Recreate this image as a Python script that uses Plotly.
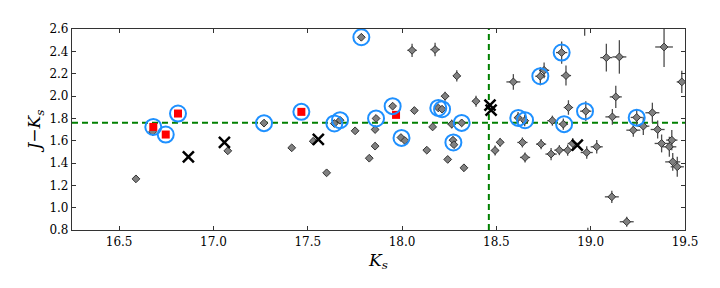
import plotly.graph_objects as go

# ---------------- data ----------------
# gray diamonds with error bars: Ks, J-Ks, err_Ks, err_JKs
gray_x = [16.589, 16.678, 17.076, 17.268, 17.415, 17.529, 17.600, 17.641, 17.671, 17.751,
          17.862, 17.857, 17.857, 17.826, 17.784, 17.950, 17.994, 18.015, 18.065, 18.053,
          18.175, 18.131, 18.162, 18.192, 18.212, 18.228, 18.242, 18.263, 18.270, 18.275,
          18.316, 18.328, 18.290, 18.392, 18.493, 18.520,
          18.590, 18.733, 18.753, 18.869, 18.846, 19.083, 19.152, 19.389, 19.483, 19.133,
          18.615, 18.650, 18.797, 18.855, 18.882, 18.974, 19.115, 19.244, 19.327, 19.226,
          19.279, 19.355, 19.376, 19.430, 19.417, 19.435, 19.459, 18.638, 18.652, 18.737,
          18.790, 18.834, 18.878, 18.905, 18.979, 19.032, 19.112, 19.191, 18.968, 18.985]
gray_y = [1.258, 1.680, 1.509, 1.757, 1.536, 1.595, 1.312, 1.754, 1.783, 1.688,
          1.799, 1.700, 1.551, 1.443, 2.526, 1.909, 1.628, 1.601, 1.870, 2.409,
          2.416, 1.515, 1.723, 1.893, 1.882, 1.998, 1.432, 1.748, 1.604, 1.564,
          1.759, 1.357, 2.180, 1.953, 1.512, 1.585,
          2.126, 2.177, 2.230, 2.183, 2.389, 2.344, 2.350, 2.439, 2.126, 1.992,
          1.806, 1.779, 1.779, 1.748, 1.897, 1.864, 1.813, 1.808, 1.850, 1.694,
          1.730, 1.700, 1.575, 1.605, 1.545, 1.410, 1.366, 1.584, 1.450, 1.569,
          1.480, 1.515, 1.515, 1.575, 1.494, 1.545, 1.097, 0.874, 2.680, 0.700]
gray_xerr = [0.004, 0.004, 0.004, 0.004, 0.004, 0.004, 0.004, 0.005, 0.005, 0.005,
             0.006, 0.006, 0.006, 0.006, 0.010, 0.008, 0.008, 0.008, 0.015, 0.025,
             0.025, 0.012, 0.012, 0.012, 0.012, 0.020, 0.012, 0.020, 0.014, 0.014,
             0.015, 0.015, 0.020, 0.020, 0.020, 0.020,
             0.037, 0.027, 0.027, 0.027, 0.030, 0.032, 0.037, 0.047, 0.027, 0.032,
             0.020, 0.020, 0.027, 0.025, 0.025, 0.030, 0.037, 0.032, 0.037, 0.037,
             0.032, 0.037, 0.037, 0.030, 0.037, 0.040, 0.035, 0.027, 0.027, 0.027,
             0.030, 0.027, 0.027, 0.027, 0.032, 0.032, 0.037, 0.037, 0.020, 0.020]
gray_yerr = [0.008, 0.008, 0.008, 0.008, 0.008, 0.008, 0.008, 0.010, 0.010, 0.010,
             0.012, 0.012, 0.012, 0.012, 0.025, 0.015, 0.015, 0.015, 0.030, 0.060,
             0.060, 0.020, 0.025, 0.025, 0.025, 0.040, 0.025, 0.040, 0.030, 0.030,
             0.030, 0.030, 0.050, 0.050, 0.045, 0.040,
             0.070, 0.080, 0.070, 0.090, 0.100, 0.125, 0.150, 0.180, 0.100, 0.100,
             0.050, 0.050, 0.045, 0.050, 0.065, 0.090, 0.070, 0.070, 0.090, 0.060,
             0.080, 0.080, 0.080, 0.090, 0.090, 0.080, 0.090, 0.045, 0.045, 0.045,
             0.055, 0.045, 0.050, 0.050, 0.055, 0.060, 0.055, 0.045, 0.140, 0.120]

# blue open circles (highlighted sources)
circ_x = [16.681, 16.747, 16.812, 17.268, 17.466, 17.641, 17.671, 17.784, 17.862, 17.950,
          17.997, 18.192, 18.212, 18.272, 18.316, 18.616, 18.652, 18.733, 18.846, 18.859,
          18.970, 19.244]
circ_y = [1.723, 1.655, 1.843, 1.757, 1.858, 1.754, 1.783, 2.526, 1.799, 1.909,
          1.625, 1.893, 1.882, 1.584, 1.759, 1.804, 1.783, 2.177, 2.389, 1.748,
          1.864, 1.806]

# red squares
red_x = [16.681, 16.747, 16.812, 17.466, 17.968]
red_y = [1.723, 1.655, 1.843, 1.858, 1.831]

# black crosses
cross_x = [16.867, 17.058, 17.556, 18.466, 18.472, 18.929]
cross_y = [1.455, 1.584, 1.611, 1.918, 1.873, 1.560]

# reference lines
HLINE_Y = 1.76
VLINE_X = 18.46

X_RANGE = [16.25, 19.5]
Y_RANGE = [0.8, 2.6]
x_ticks = [16.5, 17.0, 17.5, 18.0, 18.5, 19.0, 19.5]
y_ticks = [0.8, 1.0, 1.2, 1.4, 1.6, 1.8, 2.0, 2.2, 2.4, 2.6]

# ---------------- figure ----------------
fig = go.Figure()

green = "#008000"
fig.add_trace(go.Scatter(x=X_RANGE, y=[HLINE_Y, HLINE_Y], mode="lines",
                         line=dict(color=green, width=2, dash="6px,4px"),
                         hoverinfo="skip", showlegend=False))
fig.add_trace(go.Scatter(x=[VLINE_X, VLINE_X], y=Y_RANGE, mode="lines",
                         line=dict(color=green, width=2, dash="6px,4px"),
                         hoverinfo="skip", showlegend=False))

fig.add_trace(go.Scatter(
    x=gray_x, y=gray_y, mode="markers",
    marker=dict(symbol="diamond", size=6, color="#808080",
                line=dict(color="#333333", width=1)),
    error_x=dict(type="data", array=gray_xerr, color="#4d4d4d", thickness=1.3, width=0),
    error_y=dict(type="data", array=gray_yerr, color="#4d4d4d", thickness=1.3, width=0),
    showlegend=False))

fig.add_trace(go.Scatter(
    x=red_x, y=red_y, mode="markers",
    marker=dict(symbol="square", size=8, color="#ff0000", line=dict(width=0)),
    showlegend=False))

fig.add_trace(go.Scatter(
    x=circ_x, y=circ_y, mode="markers",
    marker=dict(symbol="circle-open", size=16, color="#1e90ff",
                line=dict(color="#1e90ff", width=2)),
    showlegend=False))

fig.add_trace(go.Scatter(
    x=cross_x, y=cross_y, mode="markers",
    marker=dict(symbol="x-thin-open", size=11, color="black",
                line=dict(color="black", width=2.5)),
    showlegend=False))

axis_font = dict(family="DejaVu Serif", size=12, color="black")
title_font = dict(family="DejaVu Serif", size=17, color="black")

fig.update_xaxes(range=X_RANGE, tickvals=x_ticks, ticktext=[f"{v:.1f}" for v in x_ticks],
                 ticks="inside", ticklen=4, tickcolor="#333", showgrid=False, zeroline=False,
                 showline=True, linecolor="#333", linewidth=1.2, mirror="ticks",
                 tickfont=axis_font, automargin=False,
                 title=dict(text="<i>K</i><sub><i>s</i></sub>", font=title_font, standoff=6))
fig.update_yaxes(range=Y_RANGE, tickvals=y_ticks, ticktext=[f"{v:.1f}" for v in y_ticks],
                 ticks="inside", ticklen=4, tickcolor="#333", showgrid=False, zeroline=False,
                 showline=True, linecolor="#333", linewidth=1.2, mirror="ticks",
                 tickfont=axis_font, automargin=False,
                 title=dict(text="<i>J</i>−<i>K</i><sub><i>s</i></sub>", font=title_font, standoff=4))

fig.update_layout(width=720, height=288, margin=dict(l=72, r=35, t=29, b=58),
                  plot_bgcolor="white", paper_bgcolor="white", showlegend=False)

fig.write_html("out.html", config={"displayModeBar": False},
               post_script="document.body.style.margin='0px';")
